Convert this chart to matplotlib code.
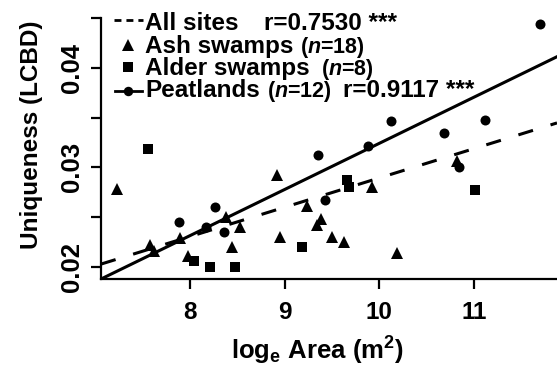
import numpy as np
import matplotlib
matplotlib.use('Agg')
import matplotlib.pyplot as plt
from matplotlib.lines import Line2D

# data
ash_x = [7.23, 7.58, 7.62, 7.89, 7.98, 8.38, 8.44, 8.53, 8.92, 8.95, 9.24, 9.34, 9.39, 9.50, 9.63, 9.92, 10.19, 10.82]
ash_y = [0.0278, 0.0222, 0.0216, 0.0229, 0.0211, 0.0250, 0.0220, 0.0240, 0.0292, 0.0230, 0.0261, 0.0242, 0.0248, 0.0230, 0.0225, 0.0280, 0.0214, 0.0306]
alder_x = [7.56, 8.04, 8.21, 8.48, 9.18, 9.66, 9.68, 11.01]
alder_y = [0.0319, 0.0206, 0.0200, 0.0200, 0.0220, 0.0287, 0.0280, 0.0277]
peat_x = [7.88, 8.17, 8.27, 8.36, 9.35, 9.43, 9.88, 10.13, 10.69, 10.84, 11.12, 11.70]
peat_y = [0.0245, 0.0240, 0.0260, 0.0235, 0.0312, 0.0267, 0.0322, 0.0347, 0.0335, 0.0300, 0.0348, 0.0444]

# regression lines (intercept, slope)
all_fit = (-0.00046, 0.00294)
peat_fit = (-0.01389, 0.00463)

x_ticks = [8, 9, 10, 11]
x_ticklabels = ['8', '9', '10', '11']
y_ticks = [0.02, 0.025, 0.03, 0.035, 0.04, 0.045]
y_ticklabels = ['0.02', '', '0.03', '', '0.04', '']

plt.rcParams['font.family'] = ['Liberation Sans', 'DejaVu Sans']
plt.rcParams['font.weight'] = 'bold'
plt.rcParams['mathtext.fontset'] = 'custom'
plt.rcParams['mathtext.rm'] = 'Liberation Sans:bold'
plt.rcParams['mathtext.it'] = 'Liberation Sans:italic:bold'
plt.rcParams['mathtext.bf'] = 'Liberation Sans:bold'

W, H = 557, 373
fig = plt.figure(figsize=(W/100, H/100), dpi=100)
ax = fig.add_axes([101/W, (H-279)/H, 456/W, (279-18)/H])

ax.plot(ash_x, ash_y, '^', color='k', ms=9, mew=0)
ax.plot(alder_x, alder_y, 's', color='k', ms=7, mew=0)
ax.plot(peat_x, peat_y, 'o', color='k', ms=7.2, mew=0)
ax.axline((0, all_fit[0]), slope=all_fit[1], color='k', lw=2.2, ls=(0, (5, 6)))
ax.axline((0, peat_fit[0]), slope=peat_fit[1], color='k', lw=2.2)

ax.set_xlim(7.06, 11.88)
ax.set_ylim(0.0188, 0.045)
for s in ['top', 'right']:
    ax.spines[s].set_visible(False)
for s in ['left', 'bottom']:
    ax.spines[s].set_linewidth(1.6)
ax.set_xticks(x_ticks)
ax.set_xticklabels(x_ticklabels, fontsize=17.5)
ax.set_yticks(y_ticks)
ax.set_yticklabels(y_ticklabels, fontsize=18.5, rotation=90, va='center')
ax.tick_params(axis='x', length=7.5, width=1.6, pad=8)
ax.tick_params(axis='y', length=7.5, width=1.6, pad=5)

def fp(x, y):
    return x/W, 1 - y/H

# axis labels
fig.text(*fp(32, 135), 'Uniqueness (LCBD)', rotation=90, ha='center', va='center', fontsize=17.5)
fig.text(*fp(317, 360), r'log$_{\mathrm{e}}$ Area (m$^{\mathrm{2}}$)', ha='center', va='baseline', fontsize=18.5)

# legend
fig.add_artist(Line2D([114/W, 143/W], [1-20/H, 1-20/H], color='k', lw=2, ls=(0, (2.5, 1.8))))
fig.add_artist(Line2D([128/W], [1-45/H], marker='^', color='k', ms=8.5, mew=0))
fig.add_artist(Line2D([128/W], [1-67/H], marker='s', color='k', ms=6.8, mew=0))
fig.add_artist(Line2D([115/W, 142/W], [1-91/H, 1-91/H], color='k', lw=2))
fig.add_artist(Line2D([128/W], [1-91/H], marker='o', color='k', ms=6.8, mew=0))

fig.text(*fp(145, 30), 'All sites', fontsize=17.5, va='baseline')
fig.text(*fp(264, 30), 'r=0.7530 ***', fontsize=17.5, va='baseline')
fig.text(*fp(145, 53), 'Ash swamps', fontsize=17.5, va='baseline')
fig.text(*fp(300, 53), r'($n$=18)', fontsize=15.5, va='baseline')
fig.text(*fp(145, 75), 'Alder swamps', fontsize=17.5, va='baseline')
fig.text(*fp(321, 75), r'($n$=8)', fontsize=15.5, va='baseline')
fig.text(*fp(145, 97), 'Peatlands', fontsize=17.5, va='baseline')
fig.text(*fp(267, 97), r'($n$=12)', fontsize=15.5, va='baseline')
fig.text(*fp(343, 97), 'r=0.9117 ***', fontsize=17.5, va='baseline')

fig.savefig('out.png', dpi=100)
